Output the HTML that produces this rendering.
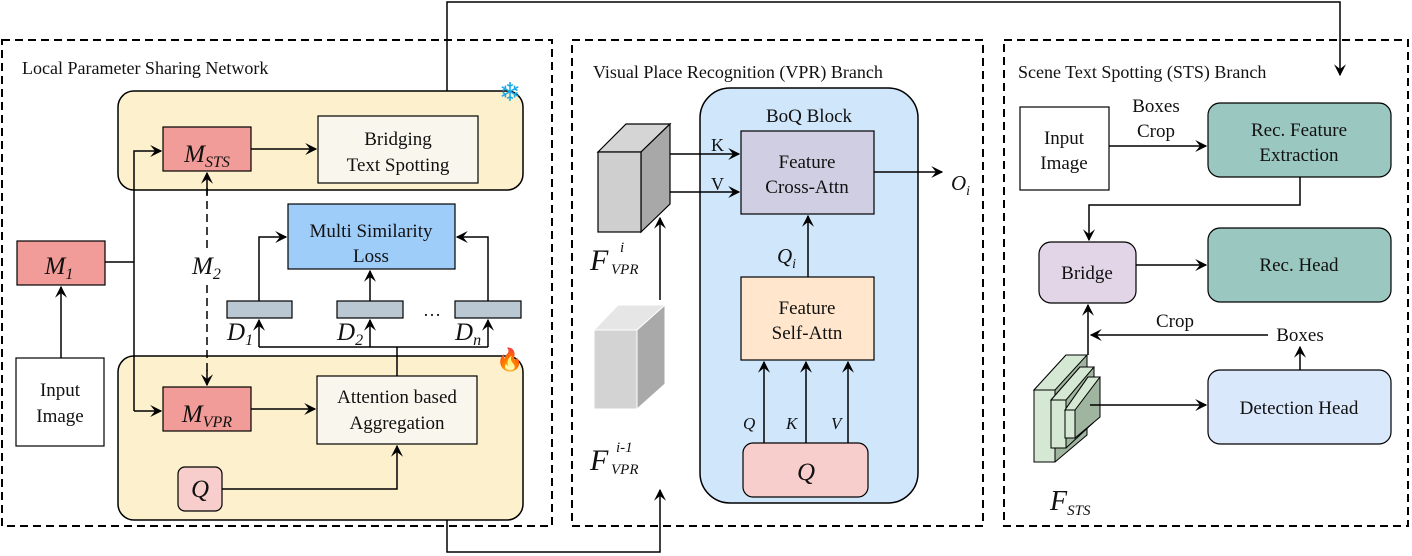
<!DOCTYPE html>
<html><head><meta charset="utf-8"><style>
html,body{margin:0;padding:0;background:#fff;font-family:"Liberation Serif","Times New Roman",Times,serif}
svg{display:block;font-family:"Liberation Serif","Times New Roman",Times,serif}
svg text{fill:#111}
.i{font-style:italic}
</style></head><body>
<svg width="1412" height="556" viewBox="0 0 1412 556" xmlns="http://www.w3.org/2000/svg" style="font-family:'Liberation Serif','Times New Roman',Times,serif">
<defs>
<marker id="a" viewBox="0 0 10 10" refX="9" refY="5" markerWidth="12" markerHeight="12" orient="auto-start-reverse" markerUnits="userSpaceOnUse"><path d="M0,0 L10,5 L0,10 L4,5 z" fill="#000"/></marker>
</defs>
<g fill="none" stroke="#000" stroke-width="2" stroke-dasharray="8,5">
<rect x="2" y="40" width="550" height="486"/>
<rect x="572" y="40" width="411" height="486"/>
<rect x="1004" y="40" width="404" height="486"/>
</g>
<text x="22" y="74" font-size="18">Local Parameter Sharing Network</text>
<text x="593" y="78" font-size="18">Visual Place Recognition (VPR) Branch</text>
<text x="1018" y="78" font-size="18">Scene Text Spotting (STS) Branch</text>

<g fill="none" stroke="#000" stroke-width="1.5">
<path d="M447,91 V2 H1340 V75" marker-end="url(#a)"/>
<path d="M447,520 V552 H660 V490" marker-end="url(#a)"/>
</g>

<rect x="118" y="91" width="405" height="99" rx="16" fill="#fdf0cc" stroke="#000" stroke-width="1.5"/>
<rect x="118" y="356" width="405" height="164" rx="16" fill="#fdf0cc" stroke="#000" stroke-width="1.5"/>
<text x="510" y="101" font-size="26" text-anchor="middle" style="fill:#19a9e6">❄</text>
<text x="510" y="367" font-size="22" text-anchor="middle" style="fill:#f26b1d">🔥</text>

<rect x="163" y="127" width="88" height="44" fill="#f19c99" stroke="#000" stroke-width="1.2"/>
<text x="207" y="162" font-size="25" text-anchor="middle" class="i">M<tspan font-size="16" dy="5">STS</tspan></text>
<rect x="318" y="116" width="160" height="67" fill="#f9f7ed" stroke="#000" stroke-width="1.2"/>
<text x="398" y="145" font-size="19" text-anchor="middle">Bridging</text>
<text x="398" y="171" font-size="19" text-anchor="middle">Text Spotting</text>

<rect x="17" y="241" width="88" height="44" fill="#f19c99" stroke="#000" stroke-width="1.2"/>
<text x="59" y="274" font-size="25" text-anchor="middle" class="i">M<tspan font-size="16" dy="5">1</tspan></text>
<rect x="16" y="358" width="88" height="88" fill="#fff" stroke="#000" stroke-width="1.2"/>
<text x="60" y="396" font-size="19" text-anchor="middle">Input</text>
<text x="60" y="422" font-size="19" text-anchor="middle">Image</text>

<rect x="288" y="204" width="167" height="65" fill="#9fcdfa" stroke="#000" stroke-width="1.2"/>
<text x="371" y="237" font-size="19" text-anchor="middle">Multi Similarity</text>
<text x="371" y="262" font-size="19" text-anchor="middle">Loss</text>

<g fill="#bac8d3" stroke="#000" stroke-width="1.2">
<rect x="227" y="301" width="65" height="17"/>
<rect x="337" y="301" width="66" height="17"/>
<rect x="455" y="301" width="66" height="17"/>
</g>
<text x="432" y="316" font-size="18" text-anchor="middle">…</text>
<text x="227" y="340" font-size="25" class="i">D<tspan font-size="16" dy="5">1</tspan></text>
<text x="337" y="340" font-size="25" class="i">D<tspan font-size="16" dy="5">2</tspan></text>
<text x="455" y="340" font-size="25" class="i">D<tspan font-size="16" dy="5">n</tspan></text>

<rect x="163" y="387" width="88" height="44" fill="#f19c99" stroke="#000" stroke-width="1.2"/>
<text x="207" y="422" font-size="25" text-anchor="middle" class="i">M<tspan font-size="16" dy="5">VPR</tspan></text>
<rect x="317" y="376" width="160" height="68" fill="#f9f7ed" stroke="#000" stroke-width="1.2"/>
<text x="397" y="403" font-size="19" text-anchor="middle">Attention based</text>
<text x="397" y="429" font-size="19" text-anchor="middle">Aggregation</text>
<rect x="178" y="467" width="44" height="44" rx="7" fill="#f8cecc" stroke="#000" stroke-width="1.2"/>
<text x="200" y="497" font-size="25" text-anchor="middle" class="i">Q</text>

<g fill="none" stroke="#000" stroke-width="1.5">
<path d="M105,262 H134"/>
<path d="M134,411 V151 H161" marker-end="url(#a)"/>
<path d="M134,411 H161" marker-end="url(#a)"/>
<path d="M61,358 V287" marker-end="url(#a)"/>
<path d="M251,149 H316" marker-end="url(#a)"/>
<path d="M251,409 H315" marker-end="url(#a)"/>
<path d="M207,188 V248" stroke-dasharray="8,5"/>
<path d="M207,285 V372" stroke-dasharray="8,5"/>
<path d="M207,195 V173" marker-end="url(#a)"/>
<path d="M207,370 V385" marker-end="url(#a)"/>
<path d="M259,301 V237 H286" marker-end="url(#a)"/>
<path d="M488,301 V237 H457" marker-end="url(#a)"/>
<path d="M370,301 V271" marker-end="url(#a)"/>
<path d="M259,347 H488"/>
<path d="M259,347 V320" marker-end="url(#a)"/>
<path d="M370,347 V320" marker-end="url(#a)"/>
<path d="M488,347 V320" marker-end="url(#a)"/>
<path d="M397,347 V376"/>
<path d="M222,489 H397 V446" marker-end="url(#a)"/>
</g>
<text x="192" y="274" font-size="25" class="i">M<tspan font-size="16" dy="5">2</tspan></text>

<rect x="700" y="88" width="218" height="415" rx="30" fill="#cfe6fb" stroke="#000" stroke-width="1.5"/>
<text x="809" y="122" font-size="19" text-anchor="middle">BoQ Block</text>
<rect x="741" y="131" width="133" height="83" fill="#d0cee2" stroke="#000" stroke-width="1.2"/>
<text x="807" y="168" font-size="19" text-anchor="middle">Feature</text>
<text x="807" y="193" font-size="19" text-anchor="middle">Cross-Attn</text>
<rect x="741" y="277" width="133" height="83" fill="#ffe6cc" stroke="#000" stroke-width="1.2"/>
<text x="807" y="314" font-size="19" text-anchor="middle">Feature</text>
<text x="807" y="339" font-size="19" text-anchor="middle">Self-Attn</text>
<rect x="743" y="443" width="125" height="54" rx="10" fill="#f8cecc" stroke="#000" stroke-width="1.2"/>
<text x="806" y="480" font-size="25" text-anchor="middle" class="i">Q</text>
<text x="743" y="429" font-size="17" class="i">Q</text>
<text x="786" y="429" font-size="17" class="i">K</text>
<text x="831" y="429" font-size="17" class="i">V</text>
<text x="777" y="263" font-size="21" class="i">Q<tspan font-size="14" dy="5">i</tspan></text>
<text x="951" y="190" font-size="21" class="i">O<tspan font-size="14" dy="5">i</tspan></text>
<text x="711" y="151" font-size="18">K</text>
<text x="711" y="190" font-size="18">V</text>

<g stroke="#000" stroke-width="1.2">
<polygon points="598,152 626,124 670,124 641,152" fill="#d5d5d5"/>
<polygon points="641,152 670,124 670,204 641,232" fill="#a8a8a8"/>
<rect x="598" y="152" width="43" height="80" fill="#cfcfcf"/>
</g>
<g stroke="#fff" stroke-width="1">
<polygon points="594,330 618,305 665,305 637,330" fill="#e6e6e6"/>
<polygon points="637,330 665,305 665,384 637,409" fill="#a9a9a9"/>
<rect x="594" y="330" width="43" height="79" fill="#d3d3d3"/>
</g>
<text x="590" y="270" font-size="30" class="i">F</text>
<text x="620" y="252" font-size="15" class="i">i</text>
<text x="611" y="274" font-size="15" class="i">VPR</text>
<text x="590" y="470" font-size="30" class="i">F</text>
<text x="616" y="452" font-size="15" class="i">i-1</text>
<text x="611" y="474" font-size="15" class="i">VPR</text>

<g fill="none" stroke="#000" stroke-width="1.5">
<path d="M670,154 H739" marker-end="url(#a)"/>
<path d="M670,192 H739" marker-end="url(#a)"/>
<path d="M660,300 V218" marker-end="url(#a)"/>
<path d="M874,172 H942" marker-end="url(#a)"/>
<path d="M808,277 V216" marker-end="url(#a)"/>
<path d="M764,443 V362" marker-end="url(#a)"/>
<path d="M806,443 V362" marker-end="url(#a)"/>
<path d="M848,443 V362" marker-end="url(#a)"/>
</g>

<rect x="1020" y="107" width="89" height="83" fill="#fff" stroke="#000" stroke-width="1.2"/>
<text x="1064" y="144" font-size="19" text-anchor="middle">Input</text>
<text x="1064" y="169" font-size="19" text-anchor="middle">Image</text>
<text x="1156" y="112" font-size="19" text-anchor="middle">Boxes</text>
<text x="1156" y="137" font-size="19" text-anchor="middle">Crop</text>
<rect x="1208" y="103" width="183" height="74" rx="12" fill="#9ac7bf" stroke="#000" stroke-width="1.2"/>
<text x="1299" y="136" font-size="19" text-anchor="middle">Rec. Feature</text>
<text x="1299" y="161" font-size="19" text-anchor="middle">Extraction</text>
<rect x="1039" y="242" width="97" height="61" rx="12" fill="#e1d5e7" stroke="#000" stroke-width="1.2"/>
<text x="1087" y="279" font-size="19" text-anchor="middle">Bridge</text>
<rect x="1208" y="228" width="183" height="74" rx="12" fill="#9ac7bf" stroke="#000" stroke-width="1.2"/>
<text x="1299" y="271" font-size="19" text-anchor="middle">Rec. Head</text>
<rect x="1208" y="370" width="183" height="74" rx="12" fill="#dae8fc" stroke="#000" stroke-width="1.2"/>
<text x="1299" y="414" font-size="19" text-anchor="middle">Detection Head</text>
<text x="1175" y="327" font-size="19" text-anchor="middle">Crop</text>
<text x="1300" y="341" font-size="19" text-anchor="middle">Boxes</text>

<g stroke="#000" stroke-width="1">
<polygon points="1034,390 1066,355 1087,355 1087,435 1055,462 1034,462" fill="#9fb59f"/>
<polygon points="1034,390 1066,355 1087,355 1055,390" fill="#d5e8d4"/>
<rect x="1034" y="390" width="21" height="72" fill="#d5e8d4"/>
<polygon points="1051,400 1080,367 1094,367 1094,422 1066,448 1051,448" fill="#9fb59f"/>
<polygon points="1051,400 1080,367 1094,367 1066,400" fill="#d5e8d4"/>
<rect x="1051" y="400" width="15" height="48" fill="#d5e8d4"/>
<polygon points="1065,410 1088,377 1100,377 1100,417 1075,438 1065,438" fill="#9fb59f"/>
<polygon points="1065,410 1088,377 1100,377 1075,410" fill="#d5e8d4"/>
<rect x="1065" y="410" width="10" height="28" fill="#d5e8d4"/>
</g>
<text x="1050" y="510" font-size="28" class="i">F<tspan font-size="15" dy="5">STS</tspan></text>

<g fill="none" stroke="#000" stroke-width="1.5">
<path d="M1109,146 H1206" marker-end="url(#a)"/>
<path d="M1300,177 V205 H1089 V240" marker-end="url(#a)"/>
<path d="M1136,265 H1206" marker-end="url(#a)"/>
<path d="M1300,370 V347" marker-end="url(#a)"/>
<path d="M1268,335 H1091" marker-end="url(#a)"/>
<path d="M1088,355 V305" marker-end="url(#a)"/>
<path d="M1090,405 H1206" marker-end="url(#a)"/>
</g>
</svg>
</body></html>
